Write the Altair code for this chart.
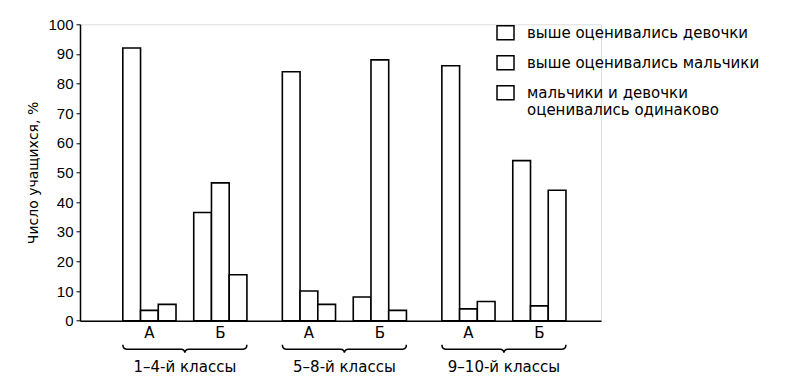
import altair as alt
import pandas as pd

groups = ["1–4-й классы", "5–8-й классы", "9–10-й классы"]
subgroups = ["А", "Б"]
series = [
    "выше оценивались девочки",
    "выше оценивались мальчики",
    "мальчики и девочки оценивались одинаково",
]
# values in order: (1–4 А, 1–4 Б, 5–8 А, 5–8 Б, 9–10 А, 9–10 Б)
girls_higher = [92, 36.5, 84, 8, 86, 54]
boys_higher = [3.5, 46.5, 10, 88, 4, 5]
equal = [5.5, 15.5, 5.5, 3.5, 6.5, 44]
values = [girls_higher, boys_higher, equal]

# slot order inside a group (with an empty slot between А and Б)
slots = ["А1", "А2", "А3", "gap", "Б1", "Б2", "Б3"]

rows = []
k = 0
for g in groups:
    for s in subgroups:
        for i, ser in enumerate(series):
            rows.append({"group": g, "sub": s, "series": ser,
                         "slot": f"{s}{i+1}", "value": values[i][k]})
        k += 1
df = pd.DataFrame(rows)

lab_df = pd.DataFrame([{"group": g, "sub": s, "slot": f"{s}2"}
                       for g in groups for s in subgroups])
brace_df = pd.DataFrame({"group": groups})

W, H = 521, 296.4
NUMFONT = "Liberation Sans"
FONT = "DejaVu Sans"
BRACE = ("M-1,-0.07 Q-1,0 -0.94,0 L-0.06,0 Q-0.01,0 0,0.055 "
         "Q0.01,0 0.06,0 L0.94,0 Q1,0 1,-0.07")
RECT = "M-1,-0.82 L1,-0.82 L1,0.82 L-1,0.82 Z"

x_scale = alt.Scale(domain=groups, paddingInner=0.222, paddingOuter=0.244, align=0.55)
xo_scale = alt.Scale(domain=slots, paddingInner=0, paddingOuter=0)

x_enc = alt.X("group:N", scale=x_scale, sort=groups,
              axis=alt.Axis(title=None, ticks=False, tickSize=0, labelAngle=0,
                            labelPadding=39, labelFontSize=15, labelFont=FONT,
                            labelColor="black", domainColor="black", domainWidth=1.5))

bars = alt.Chart(df).mark_bar(stroke="black", strokeWidth=1.6).encode(
    x=x_enc,
    xOffset=alt.XOffset("slot:N", scale=xo_scale),
    y=alt.Y("value:Q", scale=alt.Scale(domain=[0, 100], nice=False),
            axis=alt.Axis(title="Число учащихся, %", values=list(range(0, 101, 10)),
                          grid=False, tickSize=4, labelPadding=3,
                          labelFontSize=15, labelFont=NUMFONT, labelColor="black",
                          tickColor="black", domainColor="black", domainWidth=1.5,
                          titleFontSize=14, titleFont=FONT, titleFontWeight="normal",
                          titleColor="black", titlePadding=7)),
    fill=alt.Fill("series:N", scale=alt.Scale(domain=series, range=["white"] * 3),
                  legend=alt.Legend(title=None, orient="none", legendX=416, legendY=-1,
                                    symbolType=RECT, symbolSize=289,
                                    symbolStrokeColor="black", symbolStrokeWidth=1.5,
                                    symbolFillColor="white",
                                    labelFontSize=15, labelFont=FONT, labelColor="black",
                                    labelOffset=12, rowPadding=9, labelLimit=400,
                                    labelExpr="datum.label == 'мальчики и девочки оценивались одинаково' ? ['мальчики и девочки', 'оценивались одинаково'] : datum.label")),
)

sub_labels = alt.Chart(lab_df).mark_text(fontSize=15, font=FONT, color="black",
                                         baseline="middle").encode(
    x=alt.X("group:N", scale=x_scale, sort=groups),
    xOffset=alt.XOffset("slot:N", scale=xo_scale),
    y=alt.value(H + 12.5),
    text="sub:N",
)

braces = alt.Chart(brace_df).mark_point(shape=BRACE, size=15376, filled=False,
                                        stroke="black", strokeWidth=1.5,
                                        opacity=1).encode(
    x=alt.X("group:N", scale=x_scale, sort=groups),
    y=alt.value(H + 28.5),
)

chart = alt.layer(bars, sub_labels, braces).properties(
    width=W, height=H,
    autosize=alt.AutoSizeParams(type="none"),
    padding={"left": 80, "top": 24.3, "right": 190, "bottom": 60.3},
).configure_view(stroke=None).configure(background="white")

chart.save("out.html", embed_options={"renderer": "svg", "actions": False})
